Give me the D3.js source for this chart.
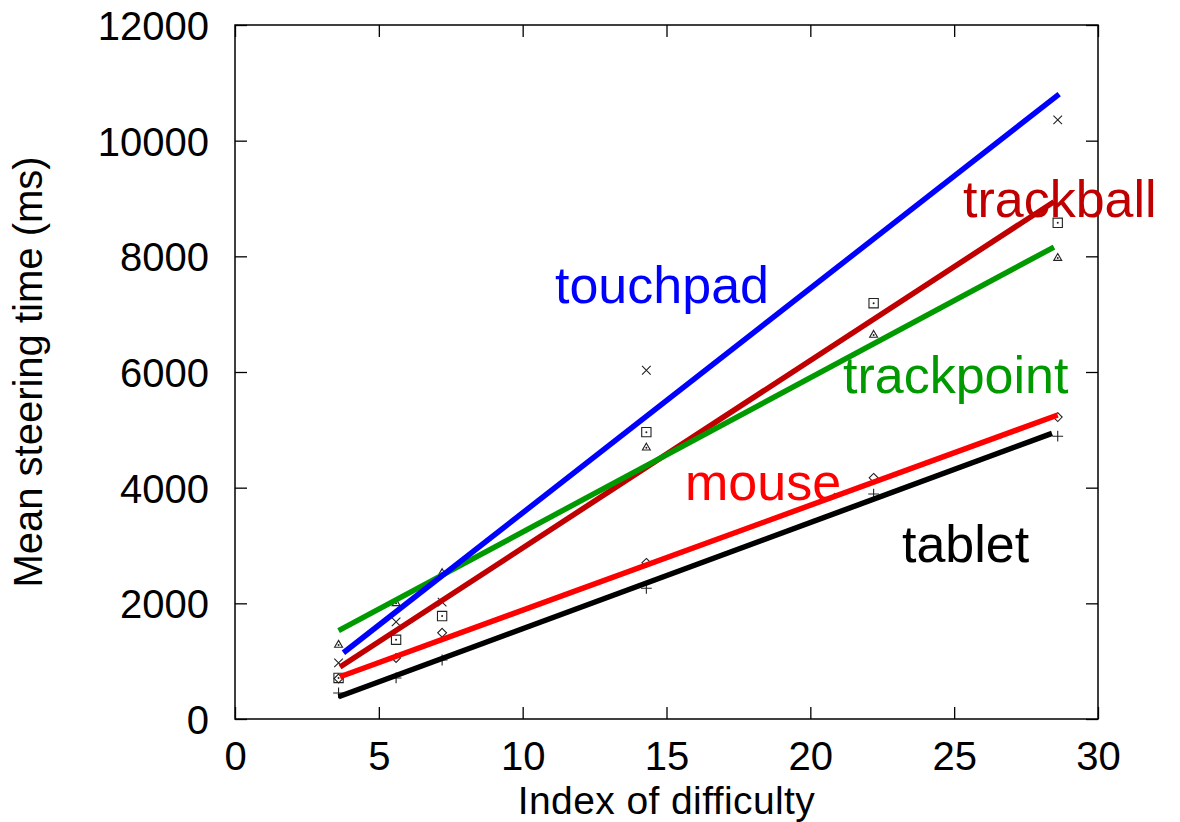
<!DOCTYPE html>
<html>
<head>
<meta charset="utf-8">
<script src="https://cdn.jsdelivr.net/npm/d3@7"></script>
<style>
  body { margin: 0; background: #fff; }
  text { font-family: 'Liberation Sans', Arial, sans-serif; }
</style>
</head>
<body>
<div class="chart"></div>
<script>
const svgWidth = 1180;
const svgHeight = 822;

const margin = { top: 25, right: 82, bottom: 103, left: 235 };
const width = svgWidth - margin.left - margin.right;
const height = svgHeight - margin.top - margin.bottom;

// Index of difficulty for each measured point
const idValues = [3.6, 5.6, 7.2, 14.3, 22.2, 28.6];

// Mean steering time (ms)
const tabletTimes = [450, 710, 1020, 2260, 3890, 4890];
const mouseTimes = [700, 1055, 1490, 2700, 4170, 5220];
const trackpointTimes = [1280, 2000, 2520, 4690, 6640, 7970];
const trackballTimes = [710, 1370, 1780, 4960, 7190, 8580];
const touchpadTimes = [970, 1680, 2020, 6030, null, 10360];

// Regression line end points [id, ms]
const tabletFit = [[3.6, 385], [28.4, 4940]];
const mouseFit = [[3.65, 731], [28.6, 5256]];
const trackballFit = [[3.65, 900], [28.47, 8945]];
const trackpointFit = [[3.6, 1527], [28.47, 8160]];
const touchpadFit = [[3.77, 1146], [28.65, 10806]];

const xTicks = [0, 5, 10, 15, 20, 25, 30];
const yTicks = [0, 2000, 4000, 6000, 8000, 10000, 12000];

const series = [
  { name: 'tablet', times: tabletTimes, fit: tabletFit, color: '#000000', symbol: d3.symbolPlus, size: 40, label: [902, 562] },
  { name: 'mouse', times: mouseTimes, fit: mouseFit, color: '#ff0000', symbol: d3.symbolDiamond2, size: 50, label: [685, 500] },
  { name: 'trackball', times: trackballTimes, fit: trackballFit, color: '#c00000', symbol: d3.symbolSquare2, size: 110, dot: true, label: [963, 217] },
  { name: 'trackpoint', times: trackpointTimes, fit: trackpointFit, color: '#009a00', symbol: d3.symbolTriangle2, size: 45, dot: true, label: [843, 393] },
  { name: 'touchpad', times: touchpadTimes, fit: touchpadFit, color: '#0000ff', symbol: d3.symbolX, size: 50, label: [555, 303] }
];

const svg = d3.select('.chart')
  .append('svg')
  .attr('width', svgWidth)
  .attr('height', svgHeight);

const chartGroup = svg.append('g')
  .attr('transform', `translate(${margin.left}, ${margin.top})`);

const xScale = d3.scaleLinear().domain([0, 30]).range([0, width]);
const yScale = d3.scaleLinear().domain([0, 12000]).range([height, 0]);

const tickLen = 12;
const font = 40;

// axes with inward ticks, mirrored on top and right
function styleAxis(g) {
  g.select('.domain').remove();
  g.selectAll('line').attr('stroke', '#000').attr('stroke-width', 1.3);
}

chartGroup.append('g')
  .attr('transform', `translate(0, ${height})`)
  .call(d3.axisBottom(xScale).tickValues(xTicks).tickSize(-tickLen).tickFormat(d3.format('d')))
  .call(styleAxis)
  .call(g => g.selectAll('text').attr('font-size', font).attr('fill', '#000').attr('dy', null).attr('y', 51));

chartGroup.append('g')
  .call(d3.axisTop(xScale).tickValues(xTicks).tickSize(-tickLen).tickFormat(''))
  .call(styleAxis);

chartGroup.append('g')
  .call(d3.axisLeft(yScale).tickValues(yTicks).tickSize(-tickLen).tickPadding(0).tickFormat(d3.format('d')))
  .call(styleAxis)
  .call(g => g.selectAll('text').attr('font-size', font).attr('fill', '#000').attr('x', -26).attr('dy', '0.36em'));

chartGroup.append('g')
  .attr('transform', `translate(${width}, 0)`)
  .call(d3.axisRight(yScale).tickValues(yTicks).tickSize(-tickLen).tickFormat(''))
  .call(styleAxis);

chartGroup.append('rect')
  .attr('width', width)
  .attr('height', height)
  .attr('fill', 'none')
  .attr('stroke', '#000')
  .attr('stroke-width', 1.5);

// axis titles
svg.append('text')
  .attr('x', margin.left + width / 2)
  .attr('y', 814)
  .attr('text-anchor', 'middle')
  .attr('font-size', 39)
  .attr('letter-spacing', 0.4)
  .text('Index of difficulty');

svg.append('text')
  .attr('transform', `translate(42, ${margin.top + height / 2}) rotate(-90)`)
  .attr('text-anchor', 'middle')
  .attr('font-size', 40)
  .text('Mean steering time (ms)');

// data points
series.forEach(s => {
  const pts = idValues.map((x, i) => ({ x: x, y: s.times[i] })).filter(d => d.y != null);
  const g = chartGroup.append('g');
  g.selectAll('path')
    .data(pts)
    .enter()
    .append('path')
    .attr('transform', d => `translate(${xScale(d.x)}, ${yScale(d.y)})`)
    .attr('d', d3.symbol(s.symbol, s.size))
    .attr('fill', 'none')
    .attr('stroke', '#222')
    .attr('stroke-width', 1.1);
  if (s.dot) {
    g.selectAll('circle')
      .data(pts)
      .enter()
      .append('circle')
      .attr('cx', d => xScale(d.x))
      .attr('cy', d => yScale(d.y))
      .attr('r', 1)
      .attr('fill', '#222');
  }
});

// labels
series.forEach(s => {
  svg.append('text')
    .attr('x', s.label[0])
    .attr('y', s.label[1])
    .attr('font-size', 52)
    .attr('fill', s.color)
    .text(s.name);
});

// regression lines
const line = d3.line().x(d => xScale(d[0])).y(d => yScale(d[1]));
series.forEach(s => {
  chartGroup.append('path')
    .datum(s.fit)
    .attr('d', line)
    .attr('fill', 'none')
    .attr('stroke', s.color)
    .attr('stroke-width', 5.5);
});
</script>
</body>
</html>
